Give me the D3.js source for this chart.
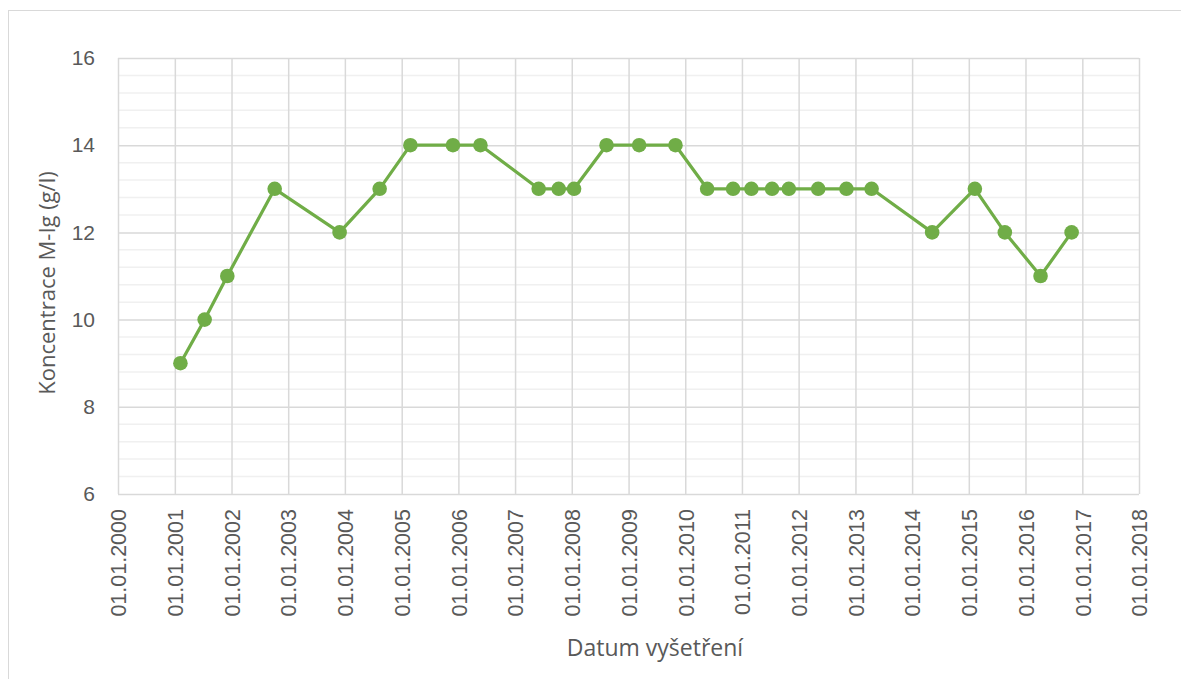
<!DOCTYPE html>
<html>
<head>
<meta charset="utf-8">
<script src="https://cdn.jsdelivr.net/npm/d3@7"></script>
<style>
    body { margin: 0; background: #fff; }
    #chart { width: 1181px; height: 679px; }
    .axis text { fill: #595959; font-family: 'Liberation Sans', Arial, sans-serif; }
    .title { fill: #595959; font-family: 'Open Sans', 'Liberation Sans', sans-serif; }
</style>
</head>
<body>
<div id="chart"></div>
<script>
// data
const dates = [
    '2001-02-06', '2001-07-12', '2001-12-05', '2002-10-06', '2003-11-28',
    '2004-08-12', '2005-02-26', '2005-11-27', '2006-05-23', '2007-06-02',
    '2007-10-09', '2008-01-16', '2008-08-12', '2009-03-10', '2009-10-30',
    '2010-05-22', '2010-11-05', '2011-03-03', '2011-07-14', '2011-10-30',
    '2012-05-06', '2012-11-04', '2013-04-15', '2014-05-10', '2015-02-09',
    '2015-08-21', '2016-04-07', '2016-10-24'
];
const values = [
    9, 10, 11, 13, 12,
    13, 14, 14, 14, 13,
    13, 13, 14, 14, 14,
    13, 13, 13, 13, 13,
    13, 13, 13, 12, 13,
    12, 11, 12
];
const yTicks = [6, 8, 10, 12, 14, 16];
const xTickYears = d3.range(2000, 2019);
const xTitle = 'Datum vyšetření';
const yTitle = 'Koncentrace M-Ig (g/l)';

// layout
const root = document.querySelector('#chart');
const clientWidth = 1181;
const clientHeight = 679;
const margin = {t: 58, r: 42, b: 185, l: 118};
const w = clientWidth - (margin.l + margin.r);
const h = clientHeight - (margin.t + margin.b);

const parse = d3.timeParse('%Y-%m-%d');
const data = dates.map((d, i) => ({date: parse(d), value: values[i]}));

const svg = d3.select(root)
    .append('svg')
    .attr('width', clientWidth)
    .attr('height', clientHeight);

// chart frame (runs off the right/bottom edge)
svg.append('rect')
    .attr('x', 8.5)
    .attr('y', 10.5)
    .attr('width', 1300)
    .attr('height', 800)
    .attr('fill', 'none')
    .attr('stroke', '#d9d9d9');

const plot = svg.append('g')
    .attr('transform', `translate(${margin.l},${margin.t})`);

// scales
const scaleX = d3.scaleTime()
    .domain([new Date(2000, 0, 1), new Date(2018, 0, 1)])
    .range([0, w]);
const scaleY = d3.scaleLinear()
    .domain([6, 16])
    .range([h, 0]);

// minor gridlines every 0.4
plot.append('g')
    .selectAll('line')
    .data(d3.range(6.4, 16, 0.4).filter(v => Math.abs(v / 2 - Math.round(v / 2)) > 0.01))
    .enter()
    .append('line')
    .attr('x1', 0)
    .attr('x2', w)
    .attr('y1', d => scaleY(d))
    .attr('y2', d => scaleY(d))
    .attr('stroke', '#f0f0f0')
    .attr('stroke-width', 1.5);

// axes with gridlines
const tickDates = xTickYears.map(y => new Date(y, 0, 1));
const axisX = d3.axisBottom()
    .scale(scaleX)
    .tickValues(tickDates)
    .tickSize(-h)
    .tickFormat(d3.timeFormat('%d.%m.%Y'));
const axisY = d3.axisLeft()
    .scale(scaleY)
    .tickValues(yTicks)
    .tickSize(-w)
    .tickFormat(d3.format('d'));

const axisXNode = plot.append('g')
    .attr('class', 'axis axis-x')
    .attr('transform', `translate(0,${h})`)
    .call(axisX);
axisXNode.select('.domain').remove();
axisXNode.selectAll('line')
    .attr('stroke', '#d9d9d9')
    .attr('stroke-width', 1.5);
axisXNode.selectAll('text')
    .attr('font-size', 21.5)
    .attr('transform', 'rotate(-90)')
    .attr('text-anchor', 'end')
    .attr('x', -15)
    .attr('y', 0)
    .attr('dy', '0.36em');

const axisYNode = plot.append('g')
    .attr('class', 'axis axis-y')
    .call(axisY);
axisYNode.select('.domain').remove();
axisYNode.selectAll('line')
    .attr('stroke', '#d9d9d9')
    .attr('stroke-width', 1.5);
axisYNode.selectAll('text')
    .attr('font-size', 21)
    .attr('x', -23);

// line + markers
const line = d3.line()
    .x(d => scaleX(d.date))
    .y(d => scaleY(d.value));

plot.append('path')
    .datum(data)
    .attr('d', line)
    .attr('fill', 'none')
    .attr('stroke', '#70ad47')
    .attr('stroke-width', 3.2)
    .attr('stroke-linejoin', 'round');

plot.selectAll('.dot')
    .data(data)
    .enter()
    .append('circle')
    .attr('class', 'dot')
    .attr('cx', d => scaleX(d.date))
    .attr('cy', d => scaleY(d.value))
    .attr('r', 7.3)
    .attr('fill', '#70ad47');

// axis titles
svg.append('text')
    .attr('class', 'title')
    .attr('x', 655)
    .attr('y', 656)
    .attr('font-size', 23)
    .attr('text-anchor', 'middle')
    .text(xTitle);

svg.append('text')
    .attr('class', 'title')
    .attr('transform', `translate(55,283) rotate(-90)`)
    .attr('font-size', 22)
    .attr('text-anchor', 'middle')
    .text(yTitle);
</script>
</body>
</html>
